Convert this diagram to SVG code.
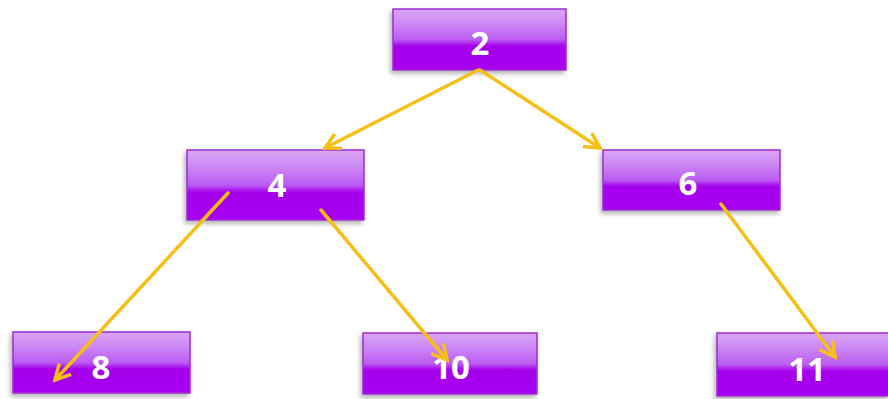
<svg xmlns="http://www.w3.org/2000/svg" width="888" height="399" viewBox="0 0 888 399">
<defs>
<linearGradient id="g" x1="0" y1="0" x2="0" y2="1">
<stop offset="0" stop-color="#d9a6f5"/>
<stop offset="0.2" stop-color="#cf8ef5"/>
<stop offset="0.5" stop-color="#bb5cf2"/>
<stop offset="0.6" stop-color="#a505ec"/>
<stop offset="1" stop-color="#a600f0"/>
</linearGradient>
<filter id="sh" x="-10%" y="-20%" width="120%" height="150%">
<feGaussianBlur in="SourceAlpha" stdDeviation="2.5"/>
<feOffset dx="-2" dy="3"/>
<feComponentTransfer><feFuncA type="linear" slope="0.3"/></feComponentTransfer>
<feMerge><feMergeNode/><feMergeNode in="SourceGraphic"/></feMerge>
</filter>
<marker id="ah" viewBox="0 0 20 20" refX="17" refY="10" markerWidth="20" markerHeight="20" markerUnits="userSpaceOnUse" orient="auto">
<path d="M2,2 L17,10 L2,18" fill="none" stroke="#f5bf16" stroke-width="3.5" stroke-linejoin="miter"/>
</marker>
</defs>
<style>
.box{fill:url(#g);stroke:#9a2ed0;stroke-width:1.5;filter:url(#sh)}
.lbl{font-family:"Open Sans","Liberation Sans",sans-serif;font-weight:bold;font-size:33px;fill:#ffffff;text-anchor:middle}
.e{stroke:#f5bf16;stroke-width:3.5;fill:none;marker-end:url(#ah);stroke-linecap:round}
</style>
<rect width="888" height="399" fill="#ffffff"/>
<g id="n2"><rect class="box" x="393" y="9" width="173" height="61"/><text class="lbl" x="480" y="55">2</text></g>
<g id="n4"><rect class="box" x="187" y="150" width="177" height="70"/><text class="lbl" x="277" y="197">4</text></g>
<g id="n6"><rect class="box" x="603" y="150" width="177" height="60"/><text class="lbl" x="688" y="195">6</text></g>
<g id="n8"><rect class="box" x="13" y="332" width="177" height="61"/><text class="lbl" x="101" y="379">8</text></g>
<g id="n10"><rect class="box" x="363" y="333" width="174" height="61"/><text class="lbl" x="451" y="379">10</text></g>
<g id="n11"><rect class="box" x="717" y="333" width="172" height="63"/><text class="lbl" x="807" y="381">11</text></g>
<g id="edges">
<line class="e" x1="478" y1="70" x2="325" y2="148"/>
<line class="e" x1="480" y1="70" x2="600" y2="148"/>
<line class="e" x1="228" y1="193" x2="55" y2="380"/>
<line class="e" x1="321" y1="210" x2="447" y2="360"/>
<line class="e" x1="721" y1="204" x2="835" y2="357"/>
</g>
</svg>
